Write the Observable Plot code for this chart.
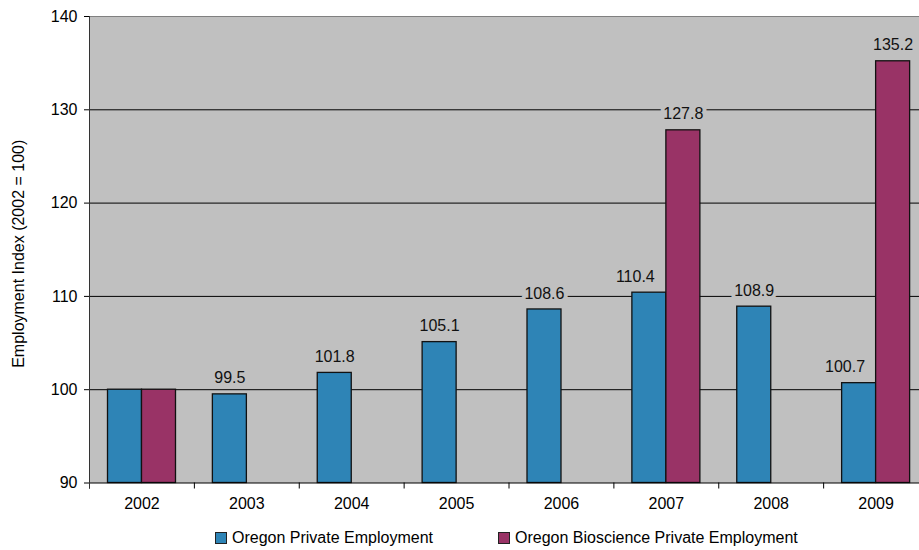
<!DOCTYPE html>
<html>
<head>
<meta charset="utf-8">
<script src="https://cdn.jsdelivr.net/npm/d3@7"></script>
<script src="https://cdn.jsdelivr.net/npm/@observablehq/plot@0.6"></script>
<style>
  html, body { margin: 0; padding: 0; background: #fff; }
  body { width: 919px; height: 550px; overflow: hidden; font-family: "Liberation Sans", Arial, sans-serif; }
  #chart svg { display: block; }
  .legend { display: flex; align-items: center; margin-top: 13px; padding-left: 215px; font-size: 16px; line-height: 20px; color: #000; }
  .legend .item { display: flex; align-items: center; }
  .legend .item + .item { margin-left: 65px; }
  .legend .sw { width: 10px; height: 10px; border: 1px solid #222; margin-right: 5px; }
</style>
</head>
<body>
<div id="chart"></div>
<div class="legend">
  <div class="item"><span class="sw" style="background:#2E84B6"></span><span>Oregon Private Employment</span></div>
  <div class="item"><span class="sw" style="background:#993366"></span><span>Oregon Bioscience Private Employment</span></div>
</div>
<script>
const years = ["2002", "2003", "2004", "2005", "2006", "2007", "2008", "2009"];
const privateEmployment = [100, 99.5, 101.8, 105.1, 108.6, 110.4, 108.9, 100.7];
const bioscienceEmployment = [100, null, null, null, null, 127.8, null, 135.2];
const seriesNames = ["Oregon Private Employment", "Oregon Bioscience Private Employment"];
const seriesColors = ["#2E84B6", "#993366"];
const yTicks = [90, 100, 110, 120, 130, 140];

const W = 919, H = 515;
const xRange = [89, 928];
const bw = (xRange[1] - xRange[0]) / years.length;

const priv = years.map((year, i) => ({year, value: privateEmployment[i], i}));
const bio = years.map((year, i) => ({year, value: bioscienceEmployment[i], i})).filter(d => d.value != null);

// labels: base year (index) is not labelled
const privLabels = priv.filter(d => d.i > 0);
const privLabelsPlain = privLabels.filter(d => bioscienceEmployment[d.i] == null);
const privLabelsShifted = privLabels.filter(d => bioscienceEmployment[d.i] != null);
const bioLabels = bio.filter(d => d.i > 0);

const fmt = d => d.value.toFixed(1);
const labelStyle = {fill: "#111", stroke: "#C0C0C0", strokeWidth: 8, fontSize: 16, dy: -16};

const chart = Plot.plot({
  width: W,
  height: H,
  marginLeft: 89,
  marginRight: 0,
  marginTop: 16,
  marginBottom: 32.5,
  style: {fontFamily: "'Liberation Sans', Arial, sans-serif", fontSize: "16px", color: "#000", background: "#fff"},
  x: {domain: years, range: xRange, padding: 0, round: false, tickSize: 0, tickPadding: 15, label: null},
  y: {domain: [90, 140], ticks: yTicks, tickSize: 5, tickPadding: 7, label: null},
  marks: [
    Plot.frame({fill: "#C0C0C0", stroke: "none"}),
    Plot.ruleY(yTicks.filter(v => v > 90 && v < 140), {stroke: "#000", strokeWidth: 1}),
    Plot.ruleY([140], {stroke: "#808080", strokeWidth: 1}),
    Plot.barY(priv, {x: "year", y1: 90, y2: "value", fill: seriesColors[0], stroke: "#111", strokeWidth: 1.3, insetLeft: 18.5, insetRight: bw - 18.5 - 34}),
    Plot.barY(bio, {x: "year", y1: 90, y2: "value", fill: seriesColors[1], stroke: "#111", strokeWidth: 1.3, insetLeft: 18.5 + 34, insetRight: bw - 18.5 - 68}),
    Plot.ruleY([90], {stroke: "#000", strokeWidth: 1}),
    Plot.ruleX(years, {x: d => d, y1: 90, y2: 90, dx: -bw / 2, insetBottom: -6, stroke: "#000"}),
    Plot.ruleX(years.slice(0, 1), {x: d => d, y1: 140, y2: 90, dx: -bw / 2, insetBottom: -6, stroke: "#333"}),
    Plot.text(privLabelsPlain, {x: "year", y: "value", text: fmt, dx: -17, ...labelStyle}),
    Plot.text(privLabelsShifted, {x: "year", y: "value", text: fmt, dx: -31, ...labelStyle}),
    Plot.text(bioLabels, {x: "year", y: "value", text: fmt, dx: 17, ...labelStyle}),
    Plot.text(["Employment Index (2002 = 100)"], {frameAnchor: "left", textAnchor: "middle", text: d => d, rotate: -90, dx: -71, dy: 4, fontSize: 16, fill: "#000"})
  ]
});
document.getElementById("chart").append(chart);
</script>
</body>
</html>
